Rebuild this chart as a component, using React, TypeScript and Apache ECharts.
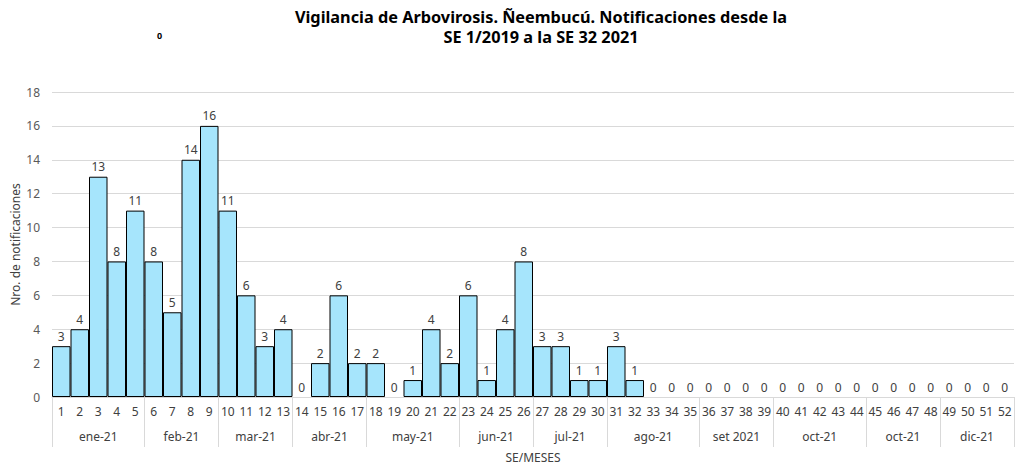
import React, { useEffect, useRef } from "react";
import * as echarts from "echarts";

const weeks: string[] = Array.from({ length: 52 }, (_, i) => String(i + 1));
const values: number[] = [
  3, 4, 13, 8, 11, 8, 5, 14, 16, 11, 6, 3, 4, 0, 2, 6, 2, 2, 0, 1, 4, 2, 6, 1, 4, 8,
  3, 3, 1, 1, 3, 1, 0, 0, 0, 0, 0, 0, 0, 0, 0, 0, 0, 0, 0, 0, 0, 0, 0, 0, 0, 0,
];
const months: string[] = ["ene-21", "feb-21", "mar-21", "abr-21", "may-21", "jun-21", "jul-21", "ago-21", "set 2021", "oct-21", "oct-21", "dic-21"];
const monthWeeks: number[] = [5, 4, 4, 4, 5, 4, 4, 5, 4, 5, 4, 4];
const yTicks = { min: 0, max: 18, interval: 2 };

const FONT = "'Noto Sans', 'Open Sans', sans-serif";

export default function App() {
  const ref = useRef<HTMLDivElement>(null);
  useEffect(() => {
    document.body.style.margin = "0";
    if (!ref.current) return;
    const chart = echarts.init(ref.current, null, { renderer: "svg" });

    const boundaries: number[] = [];
    const centers: Record<string, string> = {};
    let acc = 0;
    monthWeeks.forEach((n, i) => {
      boundaries.push(acc);
      centers[String(acc + n / 2)] = months[i];
      acc += n;
    });
    boundaries.push(acc);

    chart.setOption({
      animation: false,
      textStyle: { fontFamily: FONT },
      title: {
        text: "Vigilancia de Arbovirosis. Ñeembucú. Notificaciones desde la\nSE 1/2019 a la SE 32 2021",
        left: 536,
        top: 2,
        textAlign: "center",
        textStyle: { fontSize: 16.3, fontWeight: "bold", color: "#000", lineHeight: 20, fontFamily: FONT },
      },
      graphic: [
        {
          type: "text",
          left: 157,
          top: 31,
          style: { text: "0", fontSize: 9, fontWeight: "bold", fill: "#000", fontFamily: FONT },
        },
      ],
      grid: { left: 52, right: 4, top: 92, bottom: 69, containLabel: false, outerBoundsMode: "none" },
      xAxis: [
        {
          type: "category",
          data: weeks,
          position: "bottom",
          axisLine: { show: true, lineStyle: { color: "#d9d9d9" } },
          axisTick: {
            show: true,
            interval: (i: number) => boundaries.includes(i),
            length: 50,
            lineStyle: { color: "#d9d9d9" },
          },
          axisLabel: { interval: 0, margin: 8, fontSize: 12, color: "#404040" },
        },
        {
          type: "value",
          min: 0,
          max: acc,
          interval: 0.5,
          position: "bottom",
          offset: 25,
          axisLine: { show: false },
          axisTick: { show: false },
          splitLine: { show: false },
          axisLabel: {
            margin: 8,
            fontSize: 12,
            color: "#404040",
            formatter: (v: number) => centers[String(v)] || "",
          },
          name: "SE/MESES",
          nameLocation: "middle",
          nameGap: 29,
          nameMoveOverlap: false,
          nameTextStyle: { fontSize: 12, color: "#404040" },
        },
      ],
      yAxis: {
        type: "value",
        min: yTicks.min,
        max: yTicks.max,
        interval: yTicks.interval,
        axisLine: { show: false },
        axisTick: { show: false },
        splitLine: { lineStyle: { color: "#d9d9d9" } },
        axisLabel: { fontSize: 12, color: "#595959", margin: 12 },
        name: "Nro. de notificaciones",
        nameLocation: "middle",
        nameGap: 31,
        nameMoveOverlap: false,
        nameTextStyle: { fontSize: 12, color: "#404040" },
      },
      series: [
        {
          type: "bar",
          data: values.map((v) => (v === 0 ? { value: v, itemStyle: { borderWidth: 0 } } : v)),
          xAxisIndex: 0,
          barCategoryGap: "0%",
          itemStyle: { color: "#a6e5fc", borderColor: "#000", borderWidth: 1 },
          label: { show: true, position: "top", fontSize: 12, color: "#404040", distance: 4 },
        },
      ],
    });
    return () => chart.dispose();
  }, []);
  return <div ref={ref} style={{ width: 1018, height: 466 }} />;
}
